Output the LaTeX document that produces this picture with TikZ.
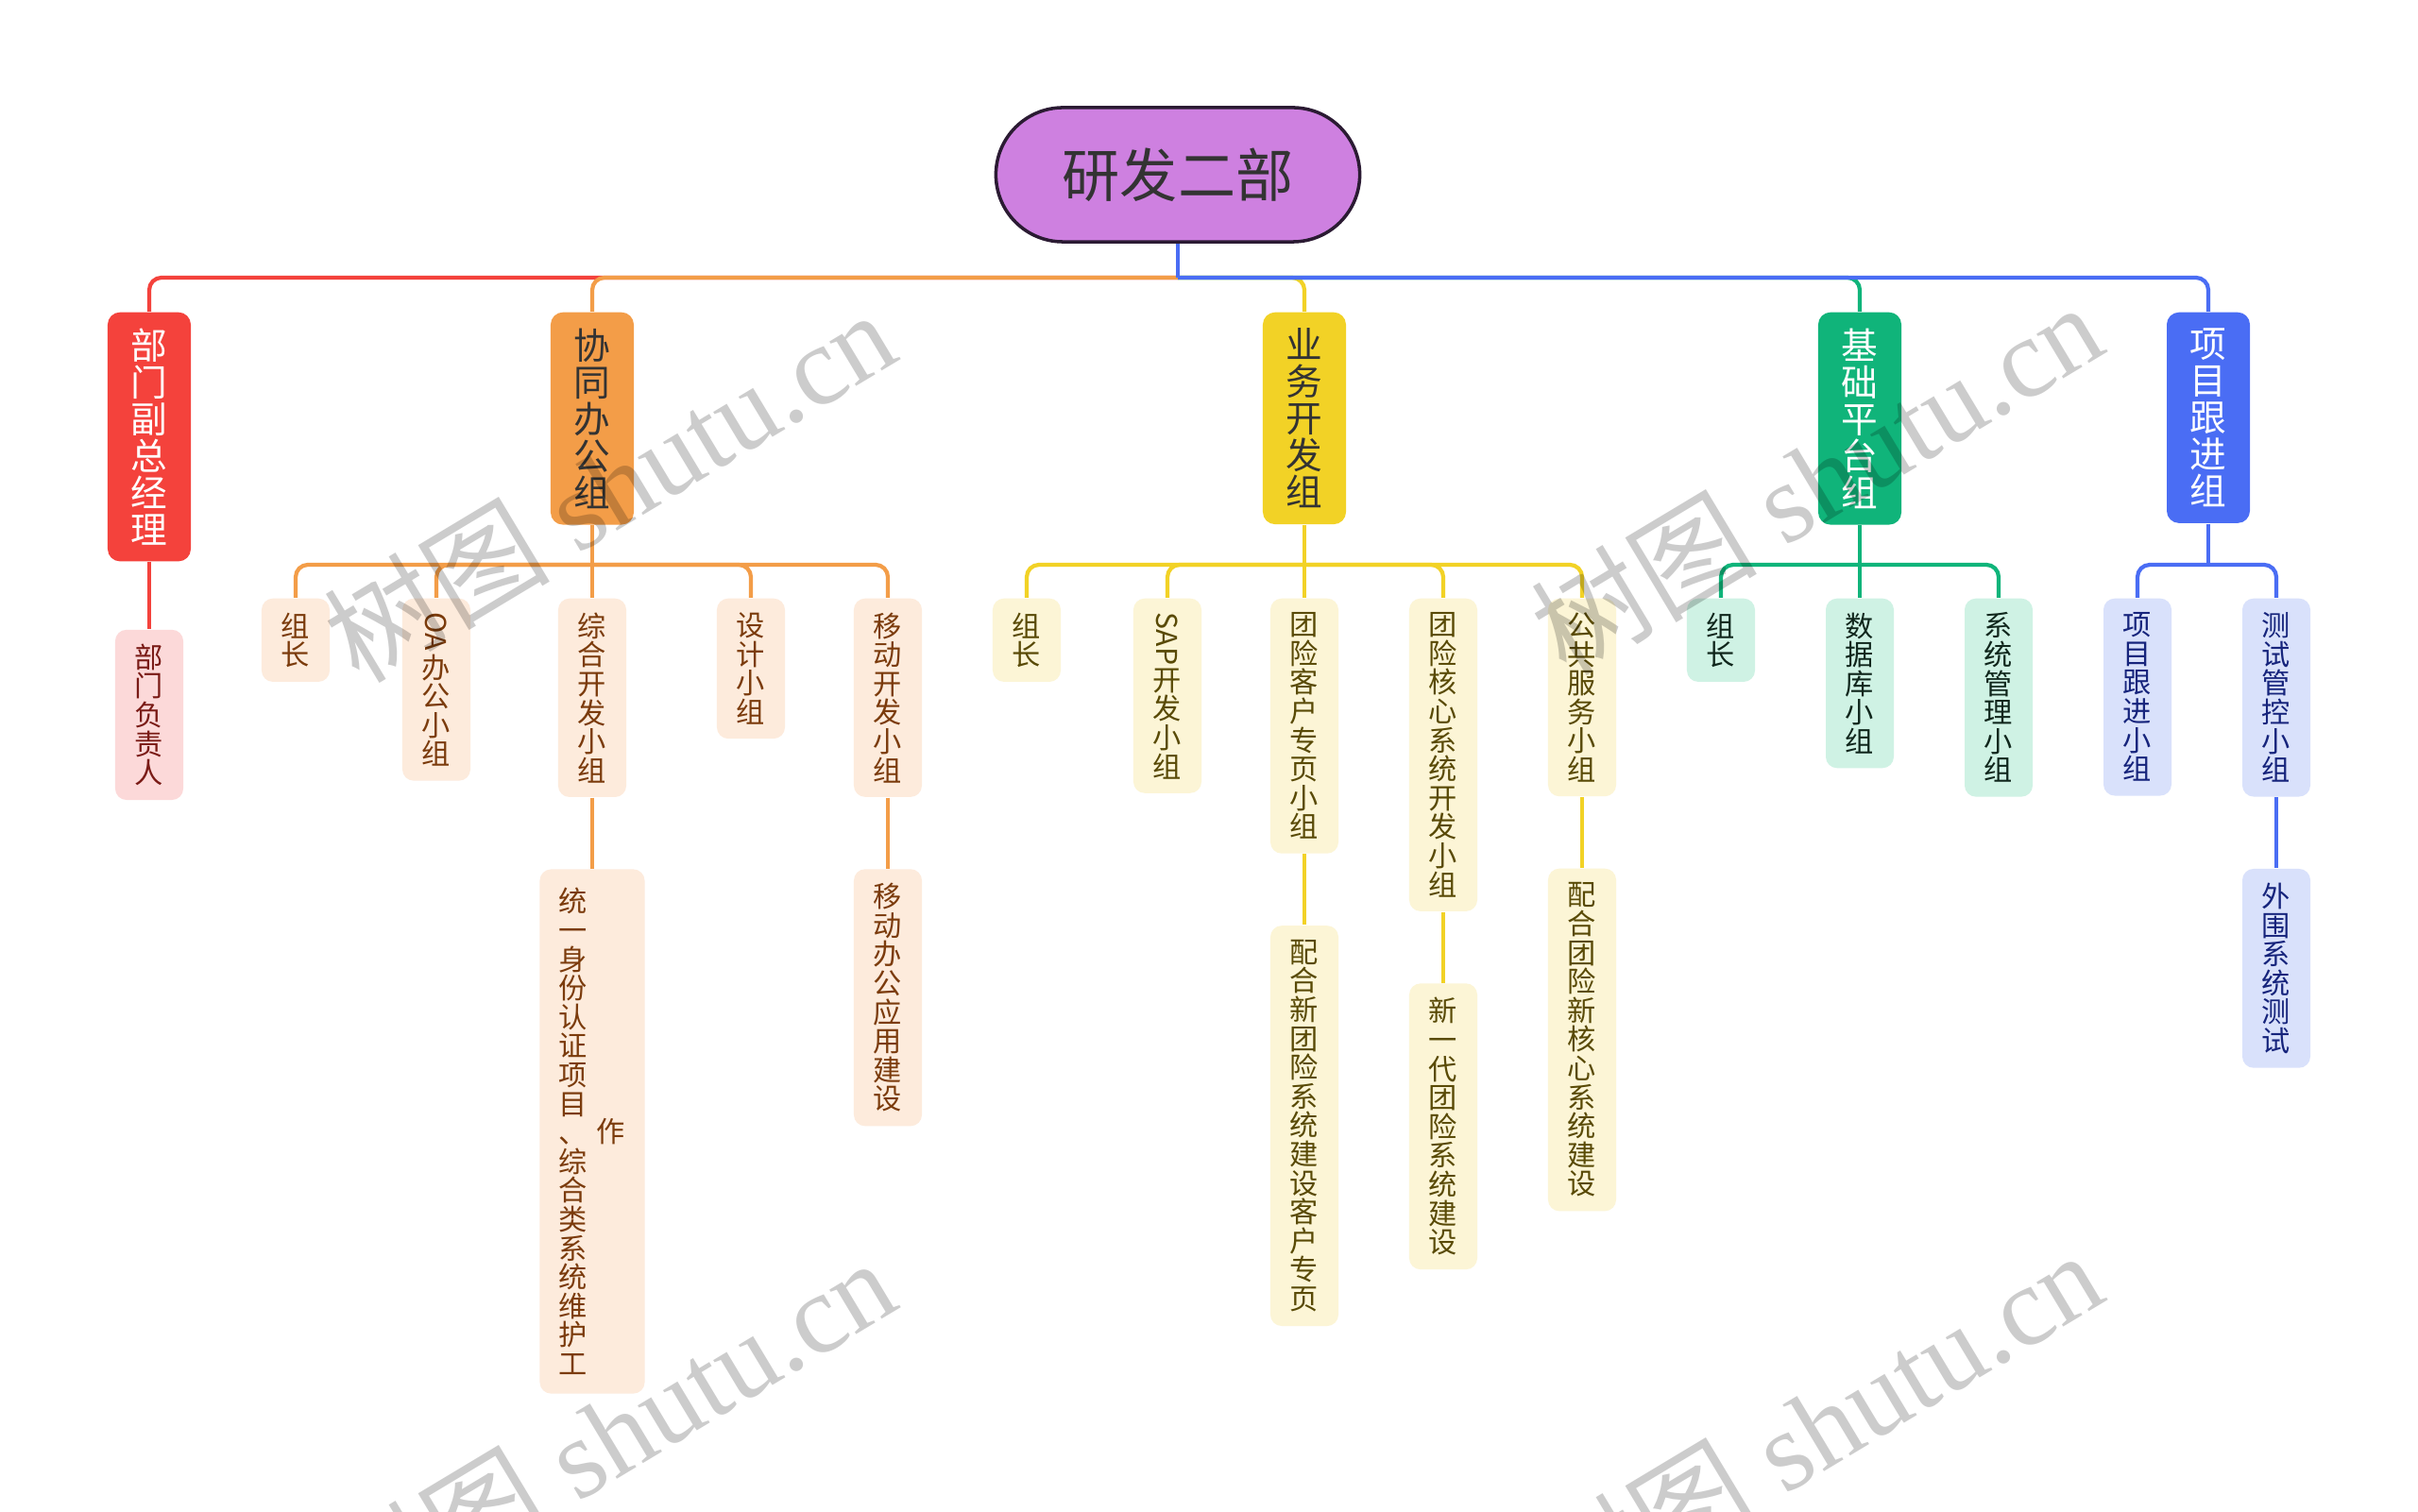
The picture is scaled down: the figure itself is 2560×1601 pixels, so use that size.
\documentclass[tikz,border=0pt]{standalone}
\usepackage{fontspec}
\newfontfamily\cjk{Noto Sans CJK SC}
\newfontfamily\wmfont{Liberation Serif}
\usetikzlibrary{positioning}

\definecolor{rootfill}{HTML}{CE80E0}
\definecolor{rootline}{HTML}{2B1B33}
\definecolor{redmain}{HTML}{F4423C}
\definecolor{redlight}{HTML}{FCD9D9}
\definecolor{redtext}{HTML}{7A1B16}
\definecolor{orgmain}{HTML}{F39D48}
\definecolor{orglight}{HTML}{FDEBDC}
\definecolor{orgtext}{HTML}{7B3B0C}
\definecolor{yelmain}{HTML}{F2D226}
\definecolor{yellight}{HTML}{FCF5D6}
\definecolor{yeltext}{HTML}{594A06}
\definecolor{grnmain}{HTML}{10B47A}
\definecolor{grnlight}{HTML}{CFF2E4}
\definecolor{grntext}{HTML}{10261C}
\definecolor{blumain}{HTML}{4A6DF4}
\definecolor{blulight}{HTML}{D9E1FB}
\definecolor{blutext}{HTML}{16247C}

\begin{document}
\begin{tikzpicture}[x=0.01cm, y=-0.01cm,
		rootbox/.style={draw=rootline, line width=1pt, fill=rootfill, rounded corners=0.71cm, minimum width=3.85cm, minimum height=1.42cm, text=black!80, font=\cjk\fontsize{17.4}{18}\selectfont},
		groupbox/.style={fill=#1main, rounded corners=0.13cm, minimum width=0.88cm, inner xsep=0pt, inner ysep=0.17cm, align=center, anchor=north, font=\cjk\fontsize{11}{11.1}\selectfont},
		leafbox/.style={fill=#1light, text=#1text, rounded corners=0.12cm, minimum width=0.72cm, inner xsep=0pt, inner ysep=0.15cm, align=center, anchor=north, font=\cjk\fontsize{8.6}{8.7}\selectfont},
		link/.style={draw=#1main, line width=1.2pt, rounded corners=0.13cm},
		watermark/.style={rotate=31, text=black, text opacity=0.2, font=\wmfont\fontsize{34}{34}\selectfont}]

		\useasboundingbox (0,0) rectangle (2560,1601);
		\clip (0,0) rectangle (2560,1601);
		\fill[white] (0,0) rectangle (2560,1601);

		% root and first level
		\node[rootbox] (root) at (1247,185) {研发二部};
		\coordinate (rootbus) at (1247,294);

		\node[groupbox=red, text=white] (fuzong) at (158,330) {部\\门\\副\\总\\经\\理};
		\node[groupbox=org, text=black!80] (xietong) at (627,330) {协\\同\\办\\公\\组};
		\node[groupbox=yel, text=black!80] (yewu) at (1381,330) {业\\务\\开\\发\\组};
		\node[groupbox=grn, text=white] (jichu) at (1969,330) {基\\础\\平\\台\\组};
		\node[groupbox=blu, text=white] (genjin) at (2338,330) {项\\目\\跟\\进\\组};

		\draw[link=red] (rootbus) -| (fuzong.north);
		\draw[link=org] (rootbus) -| (xietong.north);
		\draw[link=yel] (rootbus) -| (yewu.north);
		\draw[link=grn] (rootbus) -| (jichu.north);
		\draw[link=blu] (rootbus) -| (genjin.north);
		\draw[link=blu] (root) -- (rootbus);

		% red
		\node[leafbox=red, below=0.71cm of fuzong] (fz1) {部\\门\\负\\责\\人};
		\draw[link=red] (fuzong) -- (fz1);

		% orange
		\node[leafbox=org] (xt1) at (313,633) {组\\长};
		\node[leafbox=org] (xt2) at (462,633) {\rotatebox{-90}{OA}\\办\\公\\小\\组};
		\node[leafbox=org] (xt3) at (627,633) {综\\合\\开\\发\\小\\组};
		\node[leafbox=org] (xt4) at (795,633) {设\\计\\小\\组};
		\node[leafbox=org] (xt5) at (940,633) {移\\动\\开\\发\\小\\组};
		\node[leafbox=org, minimum width=1.11cm, inner ysep=0.2cm, below=0.75cm of xt3] (xt3a) {\parbox[c]{0.32cm}{\centering 统\\一\\身\\份\\认\\证\\项\\目\\、\\综\\合\\类\\系\\统\\维\\护\\工}\hspace{0.08cm}\parbox[c]{0.32cm}{\centering 作}};
		\node[leafbox=org, below=0.75cm of xt5] (xt5a) {移\\动\\办\\公\\应\\用\\建\\设};

		\coordinate (xtbus) at (627,598);
		\draw[link=org] (xietong) -- (xtbus);
		\draw[link=org] (xtbus) -| (xt1.north);
		\draw[link=org] (xtbus) -| (xt2.north);
		\draw[link=org] (xtbus) -- (xt3);
		\draw[link=org] (xtbus) -| (xt4.north);
		\draw[link=org] (xtbus) -| (xt5.north);
		\draw[link=org] (xt3) -- (xt3a);
		\draw[link=org] (xt5) -- (xt5a);

		% yellow
		\node[leafbox=yel] (yw1) at (1087,633) {组\\长};
		\node[leafbox=yel] (yw2) at (1236,633) {\rotatebox{-90}{SAP}\\开\\发\\小\\组};
		\node[leafbox=yel] (yw3) at (1381,633) {团\\险\\客\\户\\专\\页\\小\\组};
		\node[leafbox=yel] (yw4) at (1528,633) {团\\险\\核\\心\\系\\统\\开\\发\\小\\组};
		\node[leafbox=yel] (yw5) at (1675,633) {公\\共\\服\\务\\小\\组};
		\node[leafbox=yel, below=0.75cm of yw3] (yw3a) {配\\合\\新\\团\\险\\系\\统\\建\\设\\客\\户\\专\\页};
		\node[leafbox=yel, below=0.75cm of yw4] (yw4a) {新\\一\\代\\团\\险\\系\\统\\建\\设};
		\node[leafbox=yel, below=0.75cm of yw5] (yw5a) {配\\合\\团\\险\\新\\核\\心\\系\\统\\建\\设};

		\coordinate (ywbus) at (1381,598);
		\draw[link=yel] (yewu) -- (ywbus);
		\draw[link=yel] (ywbus) -| (yw1.north);
		\draw[link=yel] (ywbus) -| (yw2.north);
		\draw[link=yel] (ywbus) -- (yw3);
		\draw[link=yel] (ywbus) -| (yw4.north);
		\draw[link=yel] (ywbus) -| (yw5.north);
		\draw[link=yel] (yw3) -- (yw3a);
		\draw[link=yel] (yw4) -- (yw4a);
		\draw[link=yel] (yw5) -- (yw5a);

		% green
		\node[leafbox=grn] (jc1) at (1822,633) {组\\长};
		\node[leafbox=grn] (jc2) at (1969,633) {数\\据\\库\\小\\组};
		\node[leafbox=grn] (jc3) at (2116,633) {系\\统\\管\\理\\小\\组};

		\coordinate (jcbus) at (1969,598);
		\draw[link=grn] (jichu) -- (jcbus);
		\draw[link=grn] (jcbus) -| (jc1.north);
		\draw[link=grn] (jcbus) -- (jc2);
		\draw[link=grn] (jcbus) -| (jc3.north);

		% blue
		\node[leafbox=blu] (gj1) at (2263,633) {项\\目\\跟\\进\\小\\组};
		\node[leafbox=blu] (gj2) at (2410,633) {测\\试\\管\\控\\小\\组};
		\node[leafbox=blu, below=0.75cm of gj2] (gj2a) {外\\围\\系\\统\\测\\试};

		\coordinate (gjbus) at (2338,598);
		\draw[link=blu] (genjin) -- (gjbus);
		\draw[link=blu] (gjbus) -| (gj1.north);
		\draw[link=blu] (gjbus) -| (gj2.north);
		\draw[link=blu] (gj2) -- (gj2a);

		% watermark
		\node[watermark] (wm1) at (645,514) {{\cjk 树图} shutu.cn};
		\node[watermark] (wm2) at (1923,506) {{\cjk 树图} shutu.cn};
		\node[watermark] (wm3) at (645,1518) {{\cjk 树图} shutu.cn};
		\node[watermark] (wm4) at (1923,1510) {{\cjk 树图} shutu.cn};
	\end{tikzpicture}
\end{document}
